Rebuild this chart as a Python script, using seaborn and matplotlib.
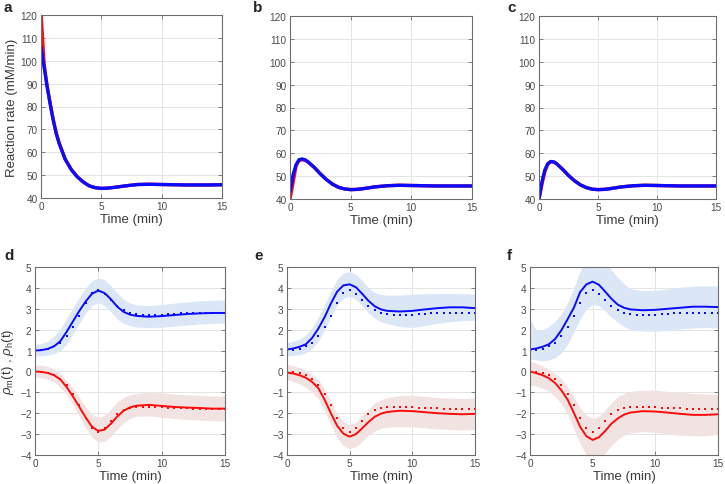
import matplotlib
matplotlib.use("Agg")
import matplotlib.pyplot as plt
import numpy as np
import pandas as pd
import seaborn as sns

# ---- top row: reaction rate (mM/min) ----
t_rate = [0, 0.25, 0.5, 0.75, 1, 1.25, 1.5, 2, 2.5, 3, 3.5, 4, 4.5, 5, 5.5, 6,
          7, 8, 9, 10, 11, 12, 13, 14, 15]

rate_a_blue = [106, 97.5, 89, 81.5, 74.5, 68.5, 64, 57, 52.5, 49.3, 47, 45.3, 44.5, 44.2,
               44.3, 44.6, 45.3, 45.9, 46.0, 45.9, 45.8, 45.7, 45.7, 45.7, 45.8]
rate_a_red = [121, 99, 89, 81.5, 74.5, 68.5, 64, 57, 52.5, 49.3, 47, 45.3, 44.5, 44.2,
              44.3, 44.6, 45.3, 45.9, 46.0, 45.9, 45.8, 45.7, 45.7, 45.7, 45.8]
rate_b_blue = [43, 50.5, 55, 57.2, 57.5, 57.1, 56.2, 53.8, 51, 48.5, 46.5, 45.1, 44.4, 44.1,
               44.2, 44.5, 45.3, 45.8, 46.0, 45.9, 45.8, 45.7, 45.7, 45.7, 45.7]
rate_b_red = [40, 47, 54.5, 56.8, 57.2, 56.9, 56.1, 53.8, 51, 48.5, 46.5, 45.1, 44.4, 44.1,
              44.2, 44.5, 45.3, 45.8, 46.0, 45.9, 45.8, 45.7, 45.7, 45.7, 45.7]
rate_c_blue = [40, 47.5, 52.8, 55.5, 56.4, 56.2, 55.4, 53, 50.3, 48, 46.2, 45, 44.3, 44.1,
               44.2, 44.5, 45.3, 45.8, 46.0, 45.9, 45.8, 45.7, 45.7, 45.7, 45.7]
rate_c_red = [40, 46.5, 52, 55.2, 56.3, 56.2, 55.4, 53, 50.3, 48, 46.2, 45, 44.3, 44.1,
              44.2, 44.5, 45.3, 45.8, 46.0, 45.9, 45.8, 45.7, 45.7, 45.7, 45.7]

# ---- bottom row: rho_m (blue), rho_h (red) ----
t_fit = [0, 0.5, 1, 1.5, 2, 2.5, 3, 3.5, 4, 4.5, 5, 5.5, 6, 6.5, 7, 7.5, 8,
         9, 10, 11, 12, 13, 14, 15]

d_blue = [1.0, 1.02, 1.08, 1.2, 1.45, 1.9, 2.4, 2.9, 3.35, 3.72, 3.87, 3.75, 3.45, 3.1,
          2.85, 2.72, 2.66, 2.62, 2.65, 2.7, 2.75, 2.78, 2.8, 2.8]
d_blue_hi = [1.3, 1.33, 1.45, 1.7, 2.05, 2.55, 3.05, 3.55, 4.0, 4.35, 4.47, 4.38, 4.1, 3.75,
             3.45, 3.28, 3.18, 3.15, 3.2, 3.27, 3.33, 3.38, 3.41, 3.42]
d_blue_lo = [0.75, 0.75, 0.78, 0.85, 1.0, 1.3, 1.8, 2.3, 2.8, 3.15, 3.3, 3.15, 2.85, 2.5,
             2.3, 2.18, 2.13, 2.1, 2.12, 2.17, 2.22, 2.27, 2.3, 2.32]
d_red = [0.0, -0.02, -0.07, -0.18, -0.38, -0.75, -1.2, -1.7, -2.2, -2.65, -2.85, -2.78, -2.5,
         -2.15, -1.88, -1.72, -1.64, -1.6, -1.65, -1.7, -1.73, -1.75, -1.78, -1.78]
d_red_hi = [0.3, 0.3, 0.25, 0.12, -0.1, -0.45, -0.8, -1.25, -1.7, -2.05, -2.2, -2.1, -1.8,
            -1.45, -1.25, -1.12, -1.05, -1.0, -1.03, -1.08, -1.12, -1.15, -1.17, -1.17]
d_red_lo = [-0.25, -0.3, -0.38, -0.5, -0.75, -1.1, -1.6, -2.15, -2.7, -3.15, -3.4, -3.35, -3.1,
            -2.75, -2.45, -2.25, -2.15, -2.13, -2.2, -2.25, -2.3, -2.33, -2.36, -2.37]

e_blue = [1.05, 1.1, 1.18, 1.3, 1.6, 2.05, 2.6, 3.25, 3.82, 4.12, 4.17, 4.03, 3.72, 3.38,
          3.12, 2.97, 2.9, 2.87, 2.9, 2.97, 3.03, 3.07, 3.07, 3.03]
e_blue_hi = [1.38, 1.45, 1.55, 1.75, 2.1, 2.6, 3.2, 3.85, 4.4, 4.7, 4.78, 4.65, 4.35, 4.0,
             3.78, 3.68, 3.65, 3.65, 3.7, 3.72, 3.73, 3.73, 3.72, 3.7]
e_blue_lo = [0.75, 0.77, 0.8, 0.9, 1.1, 1.45, 2.0, 2.6, 3.2, 3.5, 3.6, 3.45, 3.15, 2.8,
             2.55, 2.38, 2.28, 2.15, 2.1, 2.2, 2.3, 2.38, 2.43, 2.45]
e_red = [-0.05, -0.1, -0.18, -0.3, -0.5, -0.8, -1.35, -2.0, -2.6, -2.98, -3.12, -3.0, -2.72,
         -2.42, -2.17, -2.02, -1.94, -1.88, -1.9, -1.95, -2.0, -2.03, -2.05, -2.03]
e_red_hi = [0.35, 0.28, 0.18, 0.05, -0.15, -0.4, -0.85, -1.45, -2.0, -2.4, -2.55, -2.45, -2.1,
            -1.8, -1.5, -1.35, -1.25, -1.15, -1.15, -1.2, -1.25, -1.28, -1.3, -1.28]
e_red_lo = [-0.4, -0.48, -0.6, -0.75, -1.0, -1.3, -1.9, -2.55, -3.2, -3.55, -3.7, -3.6, -3.35,
            -3.05, -2.85, -2.72, -2.67, -2.65, -2.65, -2.7, -2.75, -2.78, -2.8, -2.78]

f_blue = [1.05, 1.1, 1.18, 1.3, 1.55, 1.97, 2.5, 3.05, 3.8, 4.17, 4.3, 4.15, 3.82, 3.48,
          3.2, 3.05, 2.97, 2.93, 2.95, 3.0, 3.05, 3.1, 3.1, 3.08]
f_blue_hi = [2.5, 1.95, 2.0, 2.15, 2.4, 2.75, 3.3, 4.0, 4.8, 5.4, 5.6, 5.5, 5.2, 4.85,
             4.5, 4.2, 3.95, 3.88, 3.88, 3.95, 4.03, 4.08, 4.1, 4.1]
f_blue_lo = [0.6, 0.55, 0.5, 0.55, 0.65, 0.9, 1.3, 1.9, 2.5, 3.0, 3.2, 3.15, 2.9, 2.6,
             2.35, 2.15, 2.02, 1.93, 1.92, 1.97, 2.03, 2.08, 2.1, 2.08]
f_red = [0.0, -0.08, -0.18, -0.32, -0.55, -0.9, -1.35, -1.98, -2.65, -3.1, -3.28, -3.15, -2.85,
         -2.5, -2.25, -2.07, -1.97, -1.9, -1.92, -1.97, -2.03, -2.08, -2.08, -2.05]
f_red_hi = [0.5, 0.4, 0.26, 0.1, -0.1, -0.35, -0.75, -1.2, -1.75, -2.1, -2.25, -2.15, -1.85,
            -1.5, -1.2, -1.05, -0.95, -0.9, -0.9, -0.95, -1.0, -1.05, -1.08, -1.1]
f_red_lo = [-0.65, -0.7, -0.8, -0.95, -1.2, -1.55, -2.05, -2.75, -3.45, -4.0, -4.3, -4.2, -3.9,
            -3.55, -3.25, -3.05, -2.95, -2.88, -2.92, -3.0, -3.05, -3.08, -3.08, -3.02]

# observed data (dotted), same in d, e, f
t_obs = [i * 0.5 for i in range(31)]
obs_blue = [1.0, 1.02, 1.07, 1.2, 1.38, 1.7, 2.15, 2.65, 3.28, 3.75, 3.9, 3.72, 3.42, 3.15,
            2.95, 2.8, 2.75, 2.7, 2.7, 2.7, 2.72, 2.75, 2.77, 2.8, 2.8, 2.8, 2.8, 2.8, 2.8, 2.8, 2.8]
obs_red = [0.0, -0.02, -0.08, -0.17, -0.35, -0.65, -1.1, -1.62, -2.25, -2.72, -2.88, -2.72,
           -2.38, -2.05, -1.85, -1.75, -1.7, -1.68, -1.68, -1.7, -1.72, -1.73, -1.75, -1.76,
           -1.77, -1.78, -1.78, -1.78, -1.78, -1.78, -1.78]

BLUE = "#0a0aff"
RED = "#ff0a0a"
BAND_BLUE = "#dbe7f7"
BAND_RED = "#f2e3e3"
TICK_COL = "#4a4a4a"

sns.set_style("white")
plt.rcParams["font.family"] = ["Liberation Sans", "DejaVu Sans"]
plt.rcParams["mathtext.fontset"] = "custom"
plt.rcParams["mathtext.it"] = "Liberation Sans:italic"
plt.rcParams["mathtext.rm"] = "Liberation Sans"

W, H = 725, 485
fig = plt.figure(figsize=(W / 100, H / 100), dpi=100)


def make_ax(l, r, t, b):
    return fig.add_axes([l / W, 1 - b / H, (r - l) / W, (b - t) / H])


def style(ax, ylim, yticks):
    ax.set_xlim(0, 15)
    ax.set_ylim(*ylim)
    ax.set_xticks([0, 5, 10, 15])
    ax.set_yticks(yticks)
    ax.grid(True, color="#e4e4e4", linewidth=0.7)
    ax.set_axisbelow(True)
    for s in ax.spines.values():
        s.set_color("#6e6e6e")
        s.set_linewidth(0.8)
        s.set_visible(True)
    ax.tick_params(direction="in", length=3, width=0.6, color="#6e6e6e",
                   labelsize=7.2, labelcolor=TICK_COL, top=True, right=True,
                   left=True, bottom=True, pad=2.5)
    ax.set_xlabel("Time (min)", fontsize=9.5, color="#3a3a3a", labelpad=1)
    ax.set_ylabel("")


# top row
top_boxes = [(41, 222, 16, 199), (290, 472, 17, 200), (539, 716, 17, 200)]
top_data = [(rate_a_red, rate_a_blue), (rate_b_red, rate_b_blue), (rate_c_red, rate_c_blue)]
for box, (red, blue) in zip(top_boxes, top_data):
    ax = make_ax(*box)
    df = pd.DataFrame({"t": t_rate, "red": red, "blue": blue})
    sns.lineplot(data=df, x="t", y="red", color=RED, linewidth=2.4, ax=ax)
    sns.lineplot(data=df, x="t", y="blue", color=BLUE, linewidth=2.4, ax=ax)
    style(ax, (40, 120), list(range(40, 121, 10)))

fig.axes[0].set_ylabel("Reaction rate (mM/min)", fontsize=9.5, color="#3a3a3a", labelpad=2)

# bottom row
bot_boxes = [(35, 225, 268, 456), (287, 475, 268, 456), (530, 718, 268, 456)]
bot_data = [
    (d_blue, d_blue_hi, d_blue_lo, d_red, d_red_hi, d_red_lo),
    (e_blue, e_blue_hi, e_blue_lo, e_red, e_red_hi, e_red_lo),
    (f_blue, f_blue_hi, f_blue_lo, f_red, f_red_hi, f_red_lo),
]
obs = pd.DataFrame({"t": t_obs, "blue": obs_blue, "red": obs_red})
for box, (bl, bh, blo, rl, rh, rlo) in zip(bot_boxes, bot_data):
    ax = make_ax(*box)
    ax.fill_between(t_fit, blo, bh, color=BAND_BLUE, linewidth=0)
    ax.fill_between(t_fit, rlo, rh, color=BAND_RED, linewidth=0)
    df = pd.DataFrame({"t": t_fit, "blue": bl, "red": rl})
    sns.scatterplot(data=obs, x="t", y="blue", color=BLUE, marker="s", s=3.5,
                    linewidth=0, ax=ax)
    sns.scatterplot(data=obs, x="t", y="red", color=RED, marker="s", s=3.5,
                    linewidth=0, ax=ax)
    sns.lineplot(data=df, x="t", y="blue", color=BLUE, linewidth=1.4, ax=ax)
    sns.lineplot(data=df, x="t", y="red", color=RED, linewidth=1.4, ax=ax)
    style(ax, (-4, 5), list(range(-4, 6)))

fig.axes[3].set_ylabel(r"$\rho_{\rm m}$(t) , $\rho_{\rm h}$(t)", fontsize=9.5,
                       color="#3a3a3a", labelpad=3)

for letter, x, y in [("a", 3, 8), ("b", 253, 8), ("c", 507, 8),
                     ("d", 4, 256), ("e", 254, 256), ("f", 507, 256)]:
    fig.text(x / W, 1 - y / H, letter, fontsize=11, fontweight="bold",
             ha="left", va="center")

fig.savefig("out.png", dpi=100)
